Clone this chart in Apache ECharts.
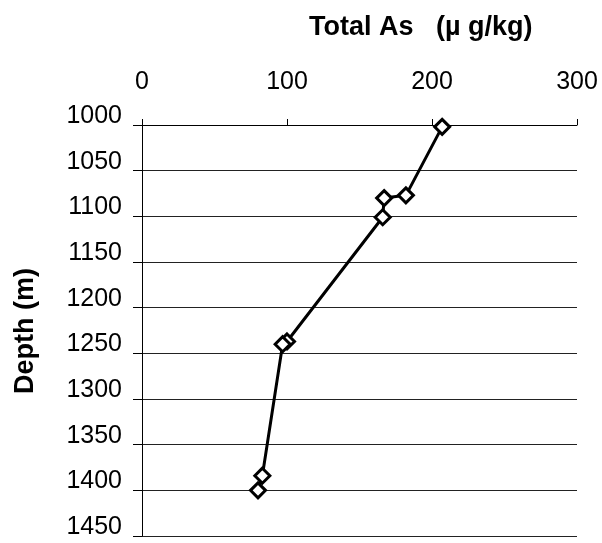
<!DOCTYPE html>
<html><head><meta charset="utf-8">
<script src="https://cdn.jsdelivr.net/npm/echarts@6/dist/echarts.min.js"></script>
<style>html,body{margin:0;padding:0;background:#fff}#c{width:602px;height:543px}</style>
</head><body><div id="c"></div>
<script>
const totalAs = [207, 182, 167, 166, 100, 97, 83, 80];
const depth = [1002, 1077, 1080, 1101, 1237, 1240, 1384, 1400];
const xTicks = [0, 100, 200, 300];
const yTicks = [1000, 1050, 1100, 1150, 1200, 1250, 1300, 1350, 1400, 1450];
const xTitle = 'Total As   (\u00b5 g/kg)';
const yTitle = 'Depth (m)';

const font = '"Liberation Sans", Arial, sans-serif';
const chart = echarts.init(document.getElementById('c'), null, {renderer: 'canvas'});
chart.setOption({
  animation: false,
  backgroundColor: '#fff',
  graphic: [
    {type: 'text', left: 309, top: 14,
     style: {text: xTitle, font: 'bold 27px ' + font, fill: '#000'}},
    {type: 'text', x: 26, y: 331, rotation: Math.PI / 2,
     style: {text: yTitle, font: 'bold 27px ' + font, fill: '#000', align: 'center', verticalAlign: 'middle'}}
  ],
  grid: {left: 142, right: 25, top: 125, bottom: 7},
  xAxis: {
    type: 'value', position: 'top', min: xTicks[0], max: xTicks[xTicks.length - 1], interval: 100,
    axisLine: {show: true, lineStyle: {color: '#000', width: 1}},
    axisTick: {show: true, inside: false, length: 6, lineStyle: {color: '#000'}},
    axisLabel: {fontFamily: font, fontSize: 25, color: '#000', margin: 31, lineHeight: 24, verticalAlign: 'bottom',
      formatter: v => String(v)},
    splitLine: {show: false}
  },
  yAxis: {
    type: 'value', inverse: true, min: yTicks[0], max: yTicks[yTicks.length - 1], interval: 50,
    axisLine: {show: true, lineStyle: {color: '#000', width: 1}},
    axisTick: {show: true, length: 9, lineStyle: {color: '#000'}},
    axisLabel: {fontFamily: font, fontSize: 25, color: '#000', margin: 20, lineHeight: 18, verticalAlign: 'bottom',
      formatter: v => String(v)},
    splitLine: {show: true, lineStyle: {color: '#222', width: 1}}
  },
  series: [{
    type: 'line',
    data: totalAs.map((v, i) => [v, depth[i]]),
    smooth: false,
    symbol: 'diamond', symbolSize: 15,
    lineStyle: {color: '#000', width: 3},
    itemStyle: {color: '#fff', borderColor: '#000', borderWidth: 3}
  }]
});
</script></body></html>
